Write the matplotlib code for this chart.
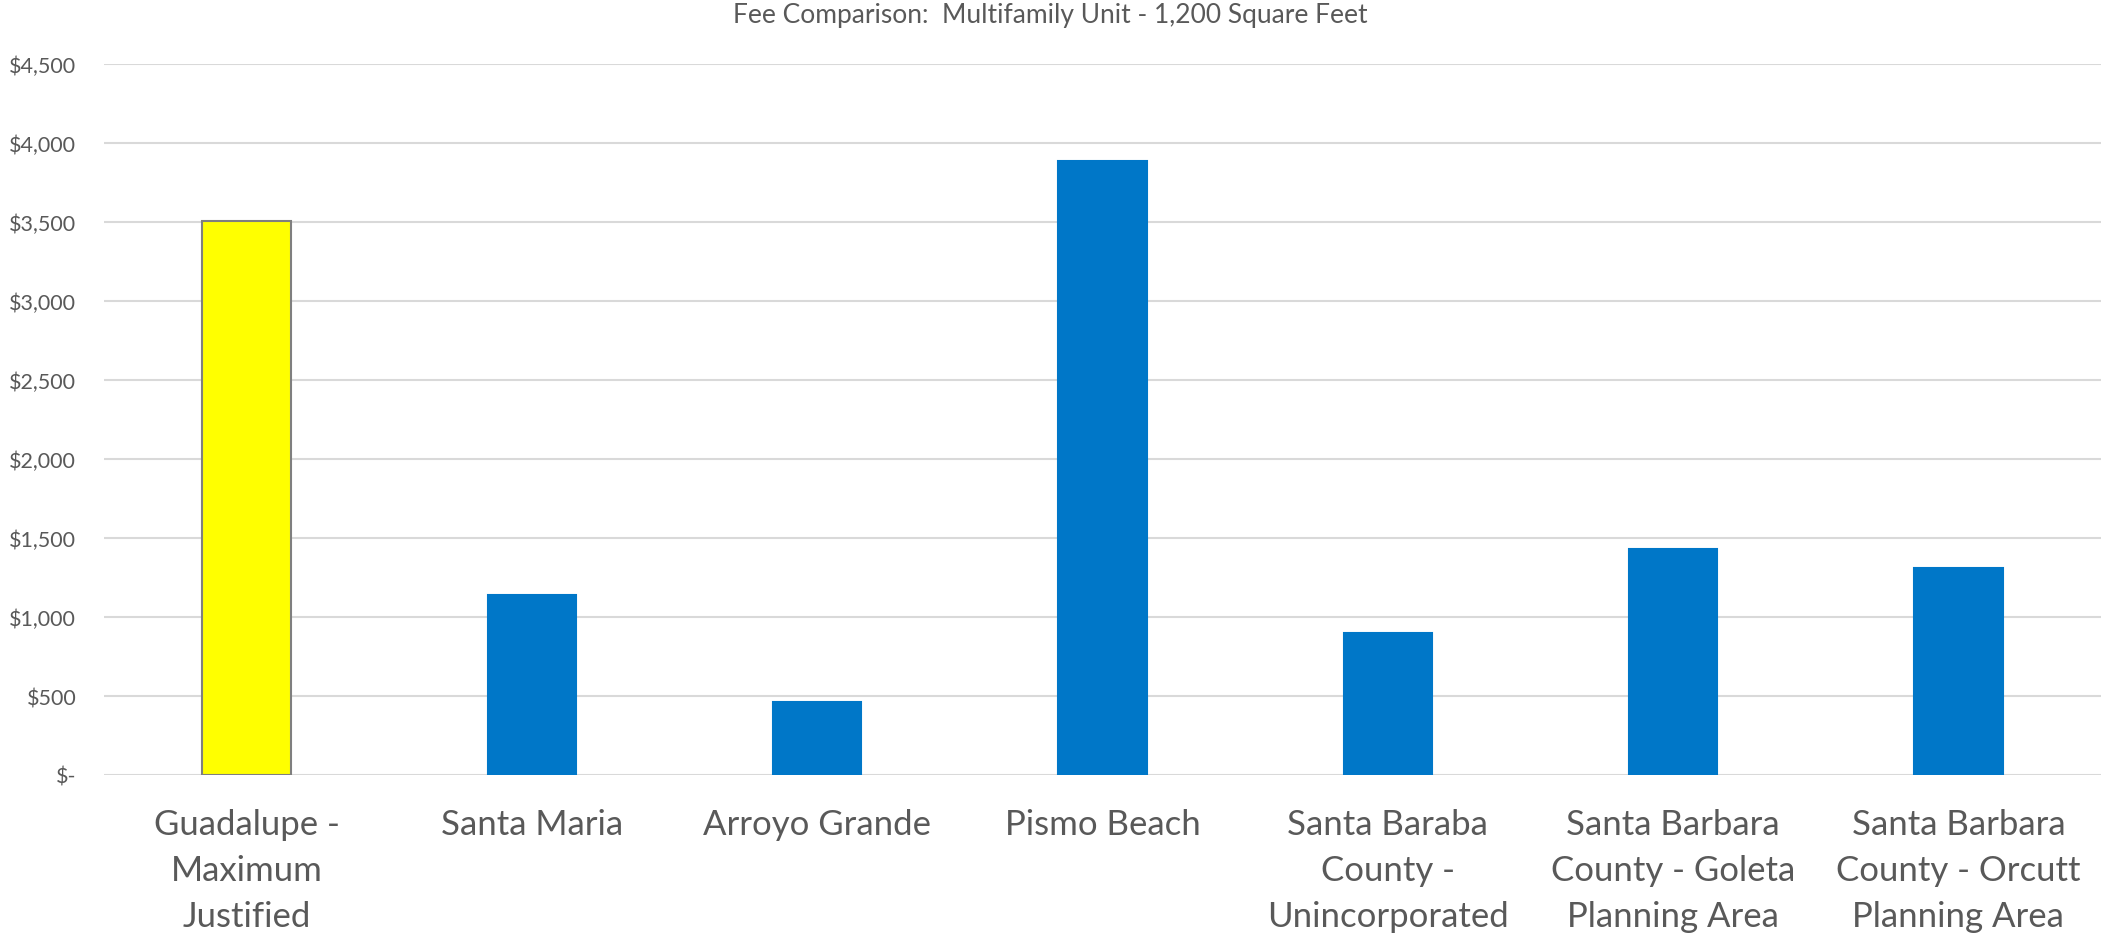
import matplotlib
matplotlib.use("Agg")
import matplotlib.pyplot as plt
from matplotlib.ticker import FuncFormatter

categories = [
    "Guadalupe -\nMaximum\nJustified",
    "Santa Maria",
    "Arroyo Grande",
    "Pismo Beach",
    "Santa Baraba\nCounty -\nUnincorporated",
    "Santa Barbara\nCounty - Goleta\nPlanning Area",
    "Santa Barbara\nCounty - Orcutt\nPlanning Area",
]
fees = [3505, 1140, 460, 3884, 899, 1433, 1310]
bar_colors = ["#FFFF00", "#0077C8", "#0077C8", "#0077C8", "#0077C8", "#0077C8", "#0077C8"]
edge_colors = ["#7F7F7F", "#0077C8", "#0077C8", "#0077C8", "#0077C8", "#0077C8", "#0077C8"]
yticks = [0, 500, 1000, 1500, 2000, 2500, 3000, 3500, 4000, 4500]
title = "Fee Comparison:  Multifamily Unit - 1,200 Square Feet"

plt.rcParams['font.family'] = ['Lato', 'DejaVu Sans']
text_color = "#595959"

fig = plt.figure(figsize=(21.01, 9.37), dpi=100)
ax = fig.add_axes([104 / 2101, 1 - 776 / 937, 1 - 104 / 2101, (776 - 65) / 937])

x = list(range(len(categories)))
ax.bar(x, fees, width=0.31, color=bar_colors, edgecolor=edge_colors, linewidth=1.5, zorder=3)

ax.set_xlim(-0.5, len(categories) - 0.5)
ax.set_ylim(0, 4500)
ax.set_yticks(yticks)
ax.yaxis.set_major_formatter(FuncFormatter(lambda v, p: "$-" if v == 0 else f"${int(v):,}"))
ax.grid(axis="y", color="#D9D9D9", linewidth=1.5, zorder=0)
ax.set_axisbelow(True)
for s in ax.spines.values():
    s.set_visible(False)
ax.tick_params(axis="both", length=0)
ax.tick_params(axis="y", labelsize=15.5, labelcolor=text_color, pad=20)
ax.set_xticks(x)
ax.set_xticklabels(categories, fontsize=25, color=text_color, linespacing=1.53, va="top")
ax.tick_params(axis="x", pad=24)

fig.text(0.5, 1 - 16 / 937, title, ha="center", va="center", fontsize=19, color=text_color)

fig.savefig("out.png", dpi=100)
